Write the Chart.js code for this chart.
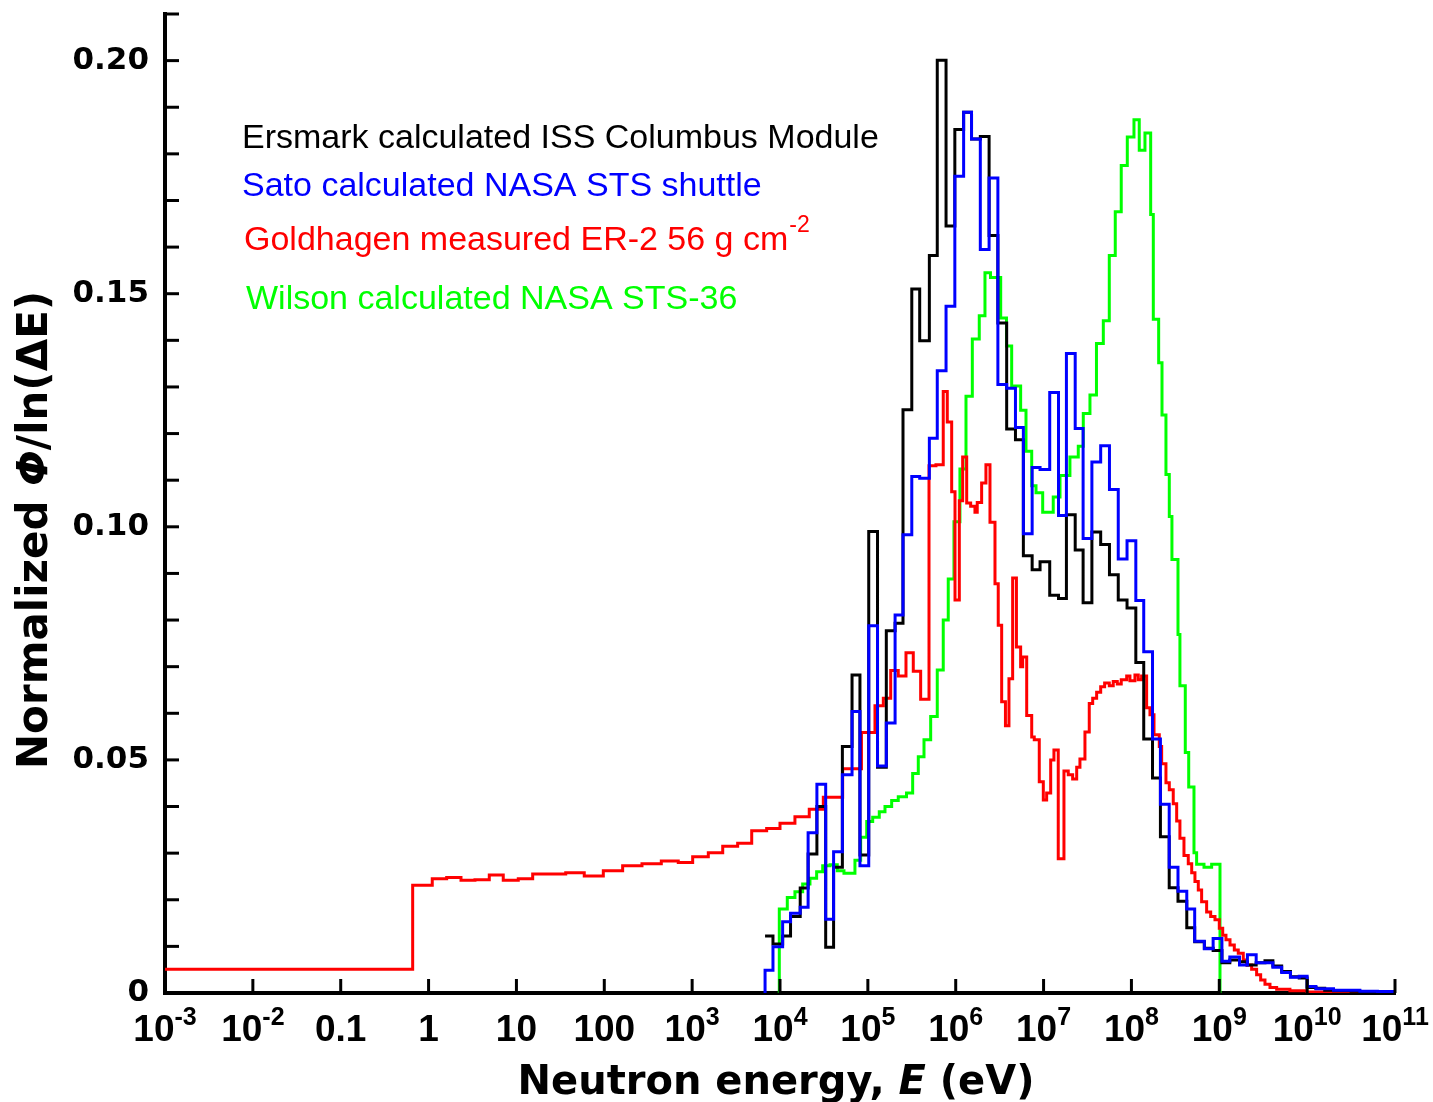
<!DOCTYPE html>
<html>
<head>
<meta charset="utf-8">
<script src="https://cdn.jsdelivr.net/npm/chart.js@4.4.0/dist/chart.umd.min.js"></script>
<style>
  html, body { margin: 0; padding: 0; background: #fff; }
</style>
</head>
<body>
<canvas id="chart" width="1433" height="1102"></canvas>
<script>
// x values are log10(E / eV), y values are normalized flux per ln(dE)

// decade ticks on the energy axis
var xTickExp  = [-3, -2, -1, 0, 1, 2, 3, 4, 5, 6, 7, 8, 9, 10, 11];
var xTickBase = ['10', '10', '0.1', '1', '10', '100', '10', '10', '10', '10', '10', '10', '10', '10', '10'];
var xTickSup  = ['-3', '-2', '', '', '', '', '3', '4', '5', '6', '7', '8', '9', '10', '11'];

var yTickValues = [0, 0.05, 0.10, 0.15, 0.20];
var yTickLabels = ['0', '0.05', '0.10', '0.15', '0.20'];

// bin edges shared by the Ersmark and Sato calculations
var calcEdges = [3.83, 3.92, 4.03, 4.12, 4.23, 4.32, 4.42, 4.52, 4.61, 4.71,
                 4.82, 4.91, 5.01, 5.11, 5.21, 5.31, 5.40, 5.50, 5.59, 5.70,
                 5.79, 5.89, 5.99, 6.09, 6.18, 6.28, 6.38, 6.48, 6.58, 6.68,
                 6.77, 6.87, 6.96, 7.07, 7.17, 7.26, 7.36, 7.45, 7.55, 7.65,
                 7.75, 7.85, 7.95, 8.05, 8.14, 8.24, 8.33, 8.43, 8.53, 8.63,
                 8.72, 8.83, 8.93, 9.03, 9.12, 9.23, 9.32, 9.42, 9.52, 9.61,
                 9.71, 9.81, 9.91, 10.0, 10.1, 10.2, 10.3, 10.4, 10.5, 10.6,
                 10.7, 10.8, 10.9, 11.0];

var ersmark = [0.0122, 0.0105, 0.0122, 0.0164, 0.0225, 0.0298, 0.0400, 0.0098, 0.0270, 0.0529,
               0.0682, 0.0296, 0.0990, 0.0484, 0.0777, 0.0793, 0.1251, 0.1510, 0.1399, 0.1582,
               0.2001, 0.1645, 0.1852, 0.1889, 0.1832, 0.1837, 0.1625, 0.1437, 0.1210, 0.1187,
               0.0938, 0.0908, 0.0925, 0.0853, 0.0846, 0.1026, 0.0950, 0.0837, 0.0989, 0.0962,
               0.0897, 0.0843, 0.0826, 0.0709, 0.0545, 0.0461, 0.0335, 0.0226, 0.0197, 0.0140,
               0.0110, 0.0096, 0.0091, 0.0065, 0.0071, 0.0067, 0.0060, 0.0065, 0.0069, 0.0058,
               0.0046, 0.0035, 0.0032, 0.0012, 0.0010, 0.0006, 0.0005, 0.0005, 0.0004, 0.0003,
               0.0003, 0.0002, 0.0002];

var sato = [0.0049, 0.0099, 0.0153, 0.0171, 0.0184, 0.0344, 0.0448, 0.0158, 0.0303, 0.0468,
            0.0604, 0.0273, 0.0788, 0.0487, 0.0579, 0.0811, 0.0983, 0.1108, 0.1104, 0.1190,
            0.1335, 0.1473, 0.1752, 0.1889, 0.1832, 0.1595, 0.1748, 0.1305, 0.1297, 0.1213,
            0.0985, 0.1127, 0.1123, 0.1288, 0.1024, 0.1372, 0.1211, 0.0975, 0.1139, 0.1174,
            0.1080, 0.0931, 0.0970, 0.0842, 0.0732, 0.0545, 0.0405, 0.0270, 0.0218, 0.0180,
            0.0111, 0.0095, 0.0117, 0.0068, 0.0077, 0.0060, 0.0082, 0.0065, 0.0065, 0.0055,
            0.0044, 0.0034, 0.0036, 0.0014, 0.0009, 0.0009, 0.0006, 0.0006, 0.0006, 0.0004,
            0.0004, 0.0003, 0.0003];

// Goldhagen ER-2 measurement
var goldhagenEdges = [-3.0, -0.181, 0.042, 0.206, 0.369, 0.528, 0.691, 0.850, 1.021, 1.185,
                      1.561, 1.772, 1.989, 2.209, 2.429, 2.649, 2.842, 3.006, 3.184, 3.348,
                      3.518, 3.678, 3.848, 4.000, 4.170, 4.333, 4.493, 4.713, 4.927, 5.081,
                      5.176, 5.260, 5.346, 5.434, 5.517, 5.601, 5.696, 5.775, 5.858, 5.904,
                      5.954, 5.992, 6.041, 6.079, 6.125, 6.170, 6.219, 6.245, 6.295, 6.344,
                      6.390, 6.447, 6.484, 6.523, 6.566, 6.606, 6.648, 6.691, 6.739, 6.762,
                      6.808, 6.865, 6.894, 6.951, 6.997, 7.035, 7.081, 7.118, 7.167, 7.232,
                      7.281, 7.331, 7.377, 7.414, 7.471, 7.520, 7.559, 7.604, 7.650, 7.695,
                      7.748, 7.793, 7.839, 7.884, 7.946, 7.983, 8.040, 8.078, 8.116, 8.173,
                      8.211, 8.257, 8.317, 8.344, 8.393, 8.431, 8.476, 8.515, 8.552, 8.598,
                      8.647, 8.686, 8.723, 8.761, 8.799, 8.856, 8.902, 8.951, 9.000, 9.039,
                      9.076, 9.122, 9.171, 9.216, 9.273, 9.311, 9.368, 9.425, 9.471, 9.520,
                      9.577, 9.653, 9.804, 9.995, 11.0];

var goldhagen = [0.0051, 0.0231, 0.0245, 0.0248, 0.0242, 0.0243, 0.0253, 0.0242, 0.0245, 0.0255,
                 0.0258, 0.0251, 0.0262, 0.0273, 0.0277, 0.0283, 0.0280, 0.0292, 0.0301, 0.0315,
                 0.0321, 0.0348, 0.0353, 0.0364, 0.0378, 0.0394, 0.0420, 0.0481, 0.0559, 0.0616,
                 0.0632, 0.0692, 0.0680, 0.0730, 0.0690, 0.0630, 0.1131, 0.1133, 0.1290, 0.1225,
                 0.1075, 0.0843, 0.1056, 0.1150, 0.1051, 0.1044, 0.1031, 0.1052, 0.1094, 0.1133,
                 0.1010, 0.0878, 0.0789, 0.0625, 0.0573, 0.0674, 0.0890, 0.0742, 0.0700, 0.0721,
                 0.0595, 0.0549, 0.0543, 0.0453, 0.0414, 0.0429, 0.0500, 0.0521, 0.0288, 0.0476,
                 0.0468, 0.0459, 0.0484, 0.0502, 0.0560, 0.0621, 0.0632, 0.0645, 0.0657, 0.0665,
                 0.0659, 0.0668, 0.0663, 0.0672, 0.0680, 0.0670, 0.0682, 0.0672, 0.0680, 0.0612,
                 0.0597, 0.0554, 0.0529, 0.0492, 0.0451, 0.0436, 0.0406, 0.0369, 0.0332, 0.0295,
                 0.0277, 0.0258, 0.0239, 0.0221, 0.0196, 0.0174, 0.0164, 0.0157, 0.0139, 0.0124,
                 0.0114, 0.0103, 0.0092, 0.0085, 0.0071, 0.0060, 0.0051, 0.0039, 0.0028, 0.0019,
                 0.0012, 0.0008, 0.0005, 0.0002];

// Wilson STS-36 calculation
var wilsonEdges = [3.992, 4.083, 4.170, 4.258, 4.341, 4.417, 4.486, 4.569, 4.652, 4.728,
                   4.853, 4.918, 4.987, 5.055, 5.130, 5.195, 5.271, 5.346, 5.440, 5.510,
                   5.574, 5.639, 5.715, 5.790, 5.858, 5.915, 5.980, 6.048, 6.117, 6.189,
                   6.268, 6.333, 6.396, 6.512, 6.578, 6.637, 6.739, 6.800, 6.865, 6.914,
                   6.990, 7.110, 7.187, 7.300, 7.395, 7.452, 7.528, 7.602, 7.680, 7.748,
                   7.816, 7.884, 7.953, 8.029, 8.089, 8.154, 8.219, 8.249, 8.310, 8.348,
                   8.393, 8.431, 8.461, 8.530, 8.552, 8.613, 8.652, 8.712, 8.742, 8.826,
                   8.913, 9.008];

var wilson = [0.0180, 0.0205, 0.0217, 0.0234, 0.0246, 0.0260, 0.0273, 0.0275, 0.0262, 0.0257,
              0.0285, 0.0334, 0.0368, 0.0377, 0.0389, 0.0400, 0.0413, 0.0421, 0.0429, 0.0471,
              0.0507, 0.0543, 0.0593, 0.0693, 0.0800, 0.0888, 0.1011, 0.1124, 0.1280, 0.1403,
              0.1453, 0.1545, 0.1535, 0.1448, 0.1388, 0.1302, 0.1250, 0.1162, 0.1088, 0.1073,
              0.1031, 0.1064, 0.1110, 0.1150, 0.1173, 0.1243, 0.1283, 0.1393, 0.1442, 0.1582,
              0.1676, 0.1775, 0.1836, 0.1873, 0.1808, 0.1845, 0.1670, 0.1445, 0.1352, 0.1240,
              0.1112, 0.1022, 0.0930, 0.0769, 0.0659, 0.0516, 0.0442, 0.0301, 0.0276, 0.0270,
              0.0276];

var seriesNames = ['Ersmark calculated ISS Columbus Module',
                   'Sato calculated NASA STS shuttle',
                   'Goldhagen measured ER-2 56 g cm',
                   'Wilson calculated NASA STS-36'];
var seriesColors = ['#000000', '#0000ff', '#ff0000', '#00ff00'];

// histogram -> points for a 'before' stepped line
function histPoints(edges, vals, riseFromZero, dropToZero) {
    var pts = [];
    if (riseFromZero) pts.push({x: Math.pow(10, edges[0]), y: 0});
    for (var i = 0; i < vals.length; i++) {
        pts.push({x: Math.pow(10, edges[i]), y: vals[i]});
    }
    pts.push({x: Math.pow(10, edges[edges.length - 1]), y: dropToZero ? 0 : vals[vals.length - 1]});
    return pts;
}

var narrowFont = '"Liberation Sans", Arial, sans-serif';
var wideFont = '"DejaVu Sans", Verdana, sans-serif';

// draws text made of several font runs, centred on x
function drawRuns(ctx, runs, x, y) {
    var total = 0;
    runs.forEach(function(r){ ctx.font = r.font; r.w = ctx.measureText(r.t).width; total += r.w; });
    var cx = x - total / 2;
    runs.forEach(function(r){
        ctx.font = r.font;
        ctx.fillText(r.t, cx, y + (r.dy || 0));
        cx += r.w;
    });
}

var decor = {
    id: 'decor',
    afterDraw: function(chart) {
        var ctx = chart.ctx;
        var xs = chart.scales.x, ys = chart.scales.y;
        var area = chart.chartArea;
        ctx.save();
        ctx.strokeStyle = '#000';
        ctx.fillStyle = '#000';
        ctx.lineWidth = 3;

        // inward tick marks
        ys.ticks.forEach(function(t){
            var py = ys.getPixelForValue(t.value);
            ctx.beginPath();
            ctx.moveTo(area.left, py);
            ctx.lineTo(area.left + 14, py);
            ctx.stroke();
        });
        xTickExp.forEach(function(k){
            var px = xs.getPixelForValue(Math.pow(10, k));
            ctx.beginPath();
            ctx.moveTo(px, area.bottom);
            ctx.lineTo(px, area.bottom - 14);
            ctx.stroke();
        });

        // y tick labels
        ctx.font = 'bold 31px ' + wideFont;
        ctx.textAlign = 'right';
        ctx.textBaseline = 'middle';
        yTickValues.forEach(function(v, i){
            ctx.fillText(yTickLabels[i], 149, ys.getPixelForValue(v));
        });

        // x tick labels with superscript exponents
        ctx.textAlign = 'left';
        ctx.textBaseline = 'alphabetic';
        xTickExp.forEach(function(k, i){
            var px = xs.getPixelForValue(Math.pow(10, k));
            var runs = [{t: xTickBase[i], font: 'bold 37px ' + narrowFont}];
            if (xTickSup[i]) runs.push({t: xTickSup[i], font: 'bold 25px ' + narrowFont, dy: -16});
            drawRuns(ctx, runs, px, 1041);
        });

        // axis titles
        drawRuns(ctx, [
            {t: 'Neutron energy, ', font: 'bold 40px ' + wideFont},
            {t: 'E', font: 'italic bold 40px ' + wideFont},
            {t: ' (eV)', font: 'bold 40px ' + wideFont}
        ], 776, 1094);

        ctx.save();
        ctx.translate(47, 530);
        ctx.rotate(-Math.PI / 2);
        drawRuns(ctx, [
            {t: 'Normalized ', font: 'bold 42px ' + wideFont},
            {t: '\u03A6', font: 'italic bold 42px ' + wideFont},
            {t: '/ln(\u0394E)', font: 'bold 42px ' + wideFont}
        ], 0, 0);
        ctx.restore();

        // series labels
        var labelY = [148, 196, 250, 309];
        var labelX = [242, 242, 244, 246];
        ctx.textAlign = 'left';
        seriesNames.forEach(function(name, i){
            ctx.fillStyle = seriesColors[i];
            ctx.font = '34px ' + narrowFont;
            ctx.fillText(name, labelX[i], labelY[i]);
            if (i === 2) {
                var w = ctx.measureText(name).width;
                ctx.font = '23px ' + narrowFont;
                ctx.fillText('-2', labelX[i] + w + 1, labelY[i] - 18);
            }
        });
        ctx.restore();
    }
};

new Chart(document.getElementById('chart'), {
    type: 'line',
    data: {
        datasets: [
            {label: seriesNames[0], data: histPoints(calcEdges, ersmark, false, false), borderColor: seriesColors[0], order: 1},
            {label: seriesNames[1], data: histPoints(calcEdges, sato, true, false), borderColor: seriesColors[1], order: 0},
            {label: seriesNames[2], data: histPoints(goldhagenEdges, goldhagen, false, false), borderColor: seriesColors[2], order: 2},
            {label: seriesNames[3], data: histPoints(wilsonEdges, wilson, true, true), borderColor: seriesColors[3], order: 3}
        ]
    },
    options: {
        responsive: false,
        animation: false,
        devicePixelRatio: 1,
        layout: {padding: {left: 165, right: 38, top: 14, bottom: 109}},
        datasets: {line: {stepped: 'before', borderWidth: 3, pointRadius: 0, fill: false}},
        plugins: {legend: {display: false}, tooltip: {enabled: false}},
        scales: {
            x: {
                type: 'logarithmic', min: 1e-3, max: 1e11,
                grid: {display: false, drawTicks: false},
                ticks: {display: false},
                border: {display: true, color: '#000', width: 4}
            },
            y: {
                type: 'linear', min: 0, max: 0.21,
                grid: {display: false, drawTicks: false},
                ticks: {display: false, stepSize: 0.01},
                border: {display: true, color: '#000', width: 4}
            }
        }
    },
    plugins: [decor]
});
</script>
</body>
</html>
